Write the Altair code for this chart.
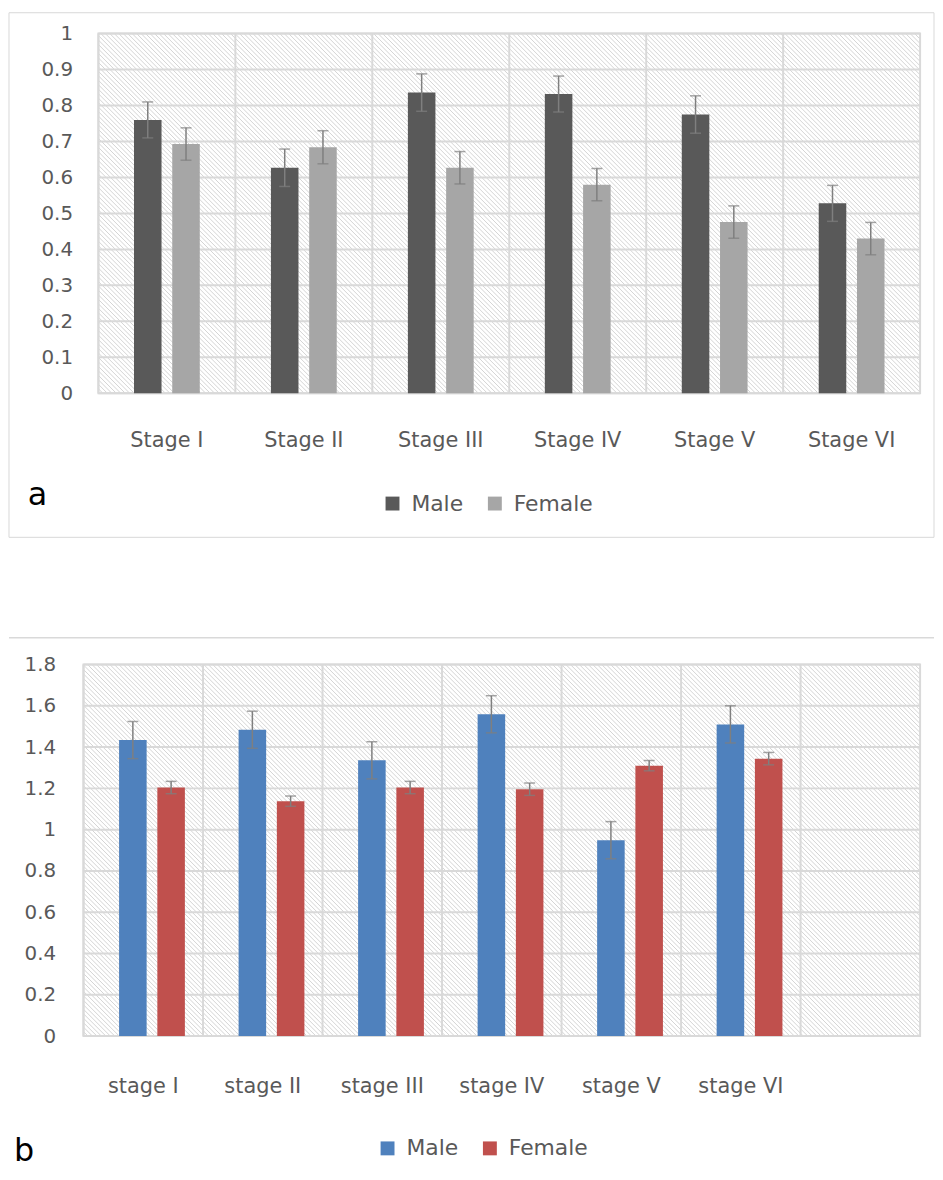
import altair as alt
import pandas as pd

# ---------------- data ----------------
stages_a = ["Stage I", "Stage II", "Stage III", "Stage IV", "Stage V", "Stage VI"]
male_a = [0.760, 0.627, 0.836, 0.832, 0.775, 0.528]
female_a = [0.693, 0.684, 0.627, 0.580, 0.476, 0.430]
male_a_err = [0.050, 0.052, 0.052, 0.050, 0.052, 0.050]
female_a_err = [0.045, 0.046, 0.045, 0.045, 0.045, 0.045]
yticks_a = [0, 0.1, 0.2, 0.3, 0.4, 0.5, 0.6, 0.7, 0.8, 0.9, 1]

stages_b = ["stage I", "stage II", "stage III", "stage IV", "stage V", "stage VI"]
male_b = [1.434, 1.484, 1.336, 1.559, 0.949, 1.510]
female_b = [1.204, 1.138, 1.204, 1.196, 1.310, 1.344]
male_b_err = [0.090, 0.090, 0.090, 0.090, 0.090, 0.090]
female_b_err = [0.030, 0.025, 0.030, 0.030, 0.025, 0.030]
yticks_b = [0, 0.2, 0.4, 0.6, 0.8, 1, 1.2, 1.4, 1.6, 1.8]

sexes = ["Male", "Female"]
FONT = "DejaVu Sans"
GRID = "#d9d9d9"
TXT = "#595959"


def make_df(stages, male, female, merr, ferr):
    rows = []
    for s, m, f, me, fe in zip(stages, male, female, merr, ferr):
        rows.append({"stage": s, "sex": "Male", "value": m, "lo": m - me, "hi": m + me})
        rows.append({"stage": s, "sex": "Female", "value": f, "lo": f - fe, "hi": f + fe})
    return pd.DataFrame(rows)


def panel(stages, df, colors, domain_x, L, R, H, yticks, ymax, ylabpad, xlabpad,
          pin, pout, letter, lx, ly, legx, legy, frame=None, topline=None):
    W = R  # plot group width
    xscale = alt.Scale(domain=domain_x, range=[L, R], paddingInner=0, paddingOuter=0)
    xaxis = alt.Axis(title=None, labelAngle=0, ticks=False, domain=False, grid=False,
                     labelPadding=xlabpad, labelFontSize=21, labelColor=TXT, labelFont=FONT)
    yscale = alt.Scale(domain=[0, ymax], nice=False)
    yaxis = alt.Axis(title=None, values=yticks, format="~g", ticks=False, domain=False,
                     grid=False, labelPadding=ylabpad, labelFontSize=20, labelColor=TXT,
                     labelFont=FONT)
    xoff = alt.XOffset("sex:N", sort=sexes, scale=alt.Scale(domain=sexes, paddingInner=pin, paddingOuter=pout))

    # hatch background (decoration)
    sp = 4.5
    n = int((R - L + H) / sp) + 2
    hatch = alt.Chart(alt.sequence(0, n, 1, as_="k")).transform_calculate(
        x0=f"{L - H} + datum.k * {sp}"
    ).transform_calculate(
        ys=f"max(0, {L} - datum.x0)", ye=f"min({H}, {R} - datum.x0)"
    ).transform_filter("datum.ys < datum.ye").transform_calculate(
        xa="datum.x0 + datum.ys", xb="datum.x0 + datum.ye"
    ).mark_rule(color="#d4d4d4", strokeWidth=1).encode(
        x=alt.X("xa:Q", scale=None, axis=None),
        x2="xb:Q",
        y=alt.Y("ys:Q", scale=None, axis=None),
        y2="ye:Q",
    )

    hgrid = alt.Chart(pd.DataFrame({"t": yticks})).mark_rule(color=GRID, strokeWidth=2).encode(
        y=alt.Y("t:Q", scale=yscale, axis=yaxis),
        x=alt.value(L), x2=alt.value(R),
    )
    vgrid = alt.Chart(pd.DataFrame({"stage": domain_x})).mark_rule(color=GRID, strokeWidth=2).encode(
        x=alt.X("stage:N", scale=xscale, axis=xaxis, bandPosition=0, sort=domain_x),
        y=alt.value(0), y2=alt.value(H),
    )
    border = alt.Chart(pd.DataFrame({"d": [0]})).mark_rect(filled=False, stroke=GRID, strokeWidth=2).encode(
        x=alt.value(L), x2=alt.value(R), y=alt.value(0), y2=alt.value(H)
    )

    bars = alt.Chart(df).mark_bar().encode(
        x=alt.X("stage:N", scale=xscale, axis=xaxis, sort=domain_x),
        xOffset=xoff,
        y=alt.Y("value:Q", scale=yscale, axis=yaxis),
        color=alt.Color("sex:N", scale=alt.Scale(domain=sexes, range=colors),
                        legend=alt.Legend(orient="none", legendX=legx, legendY=legy,
                                          direction="horizontal", title=None,
                                          symbolType="square", symbolSize=196,
                                          symbolStrokeWidth=0, labelFontSize=22,
                                          labelColor=TXT, labelFont=FONT, labelOffset=8,
                                          columnPadding=20, padding=0)),
    )
    err = alt.Chart(df).mark_rule(color="#7f7f7f", strokeWidth=1.5).encode(
        x=alt.X("stage:N", scale=xscale, axis=xaxis, sort=domain_x),
        xOffset=xoff,
        y=alt.Y("lo:Q", scale=yscale, axis=yaxis),
        y2="hi:Q",
    )
    cap_hi = alt.Chart(df).mark_tick(color="#7f7f7f", thickness=1.5, size=11).encode(
        x=alt.X("stage:N", scale=xscale, axis=xaxis, sort=domain_x),
        xOffset=xoff,
        y=alt.Y("hi:Q", scale=yscale, axis=yaxis),
    )
    cap_lo = alt.Chart(df).mark_tick(color="#7f7f7f", thickness=1.5, size=11).encode(
        x=alt.X("stage:N", scale=xscale, axis=xaxis, sort=domain_x),
        xOffset=xoff,
        y=alt.Y("lo:Q", scale=yscale, axis=yaxis),
    )
    lab = alt.Chart(pd.DataFrame({"t": [letter]})).mark_text(
        align="left", baseline="alphabetic", fontSize=32, font=FONT, color="black"
    ).encode(x=alt.value(lx), y=alt.value(ly), text="t:N")

    layers = [hatch, hgrid, vgrid, border, bars, err, cap_hi, cap_lo, lab]
    if frame is not None:
        fx1, fx2, fy1, fy2 = frame
        layers.append(alt.Chart(pd.DataFrame({"d": [0]})).mark_rect(
            filled=False, stroke=GRID, strokeWidth=1).encode(
            x=alt.value(fx1), x2=alt.value(fx2), y=alt.value(fy1), y2=alt.value(fy2)))
    if topline is not None:
        tx1, tx2, ty = topline
        layers.append(alt.Chart(pd.DataFrame({"d": [0]})).mark_rule(
            color=GRID, strokeWidth=1.5).encode(
            x=alt.value(tx1), x2=alt.value(tx2), y=alt.value(ty)))
    return alt.layer(*layers).properties(width=W, height=H)


df_a = make_df(stages_a, male_a, female_a, male_a_err, female_a_err)
df_b = make_df(stages_b, male_b, female_b, male_b_err, female_b_err)

pa = panel(stages_a, df_a, ["#595959", "#a6a6a6"], stages_a, 15, 842, 362, yticks_a, 1,
           11, 37, 0.28, 0.93, "a", -56, 474, 300, 462, frame=(-75, 856, -21, 507))
pb = panel(stages_b, df_b, ["#4f81bd", "#c0504d"], stages_b + [" "], 0, 842, 374, yticks_b, 1.8,
           28, 40, 0.32, 0.92, "b", -70, 500, 295, 476, topline=(-75, 856, -27))

chart = alt.vconcat(pa, pb, spacing=99).resolve_scale(color="independent").resolve_legend(
    color="independent"
).properties(padding=0).configure_view(stroke=None)

chart.save("out.html", embed_options={"renderer": "svg", "actions": False})
